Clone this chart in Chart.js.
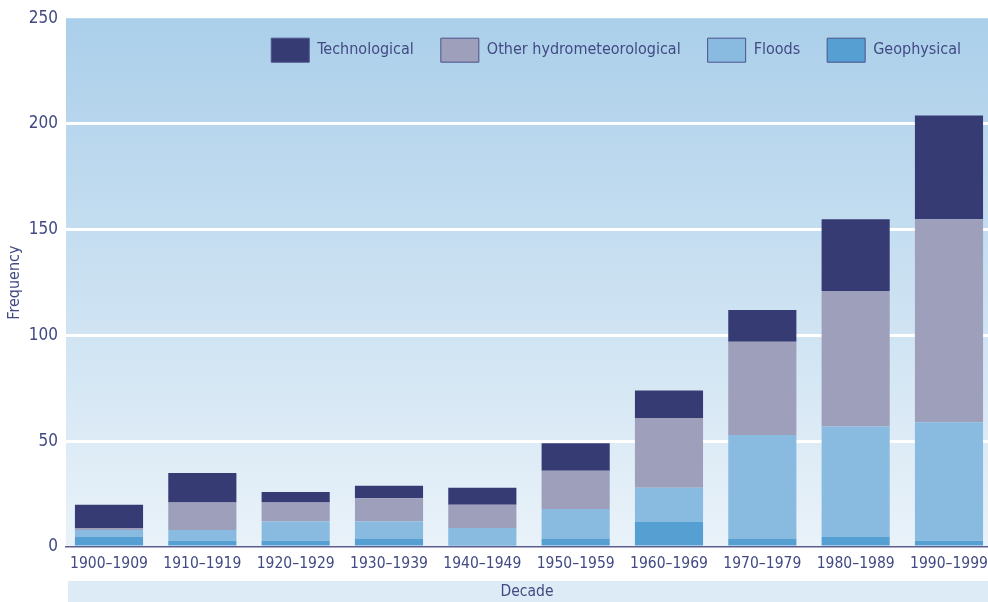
<!DOCTYPE html>
<html>
<head>
<meta charset="utf-8">
<script src="https://cdn.jsdelivr.net/npm/chart.js@4.4.1/dist/chart.umd.min.js"></script>
<style>
  html, body { margin: 0; padding: 0; background: #ffffff; }
  #wrap { width: 988px; height: 602px; position: relative; }
</style>
</head>
<body>
<div id="wrap"><canvas id="disasterChart"></canvas></div>
<script>
const decades = ['1900–1909', '1910–1919', '1920–1929', '1930–1939', '1940–1949',
    '1950–1959', '1960–1969', '1970–1979', '1980–1989', '1990–1999'];

const geophysical = [5, 3, 3, 4, 1, 4, 12, 4, 5, 3];
const floods = [3, 5, 9, 8, 8, 14, 16, 49, 52, 56];
const otherHydro = [1, 13, 9, 11, 11, 18, 33, 44, 64, 96];
const technological = [11, 14, 5, 6, 8, 13, 13, 15, 34, 49];

const yTicks = [0, 50, 100, 150, 200, 250];

const textColor = '#414a82';
const fontFamily = "'Liberation Sans Narrow', 'DejaVu Sans Condensed', 'Roboto', sans-serif";

// fond dégradé de la zone du graphique + bandeau "Decade"
const backgroundPlugin = {
    id: 'plotBackground',
    beforeInit(chart) {
        // la légende est posée dans la zone du graphique : elle ne prend presque pas de place
        if (chart.legend && !chart.legend._patched) {
            const origFit = chart.legend.fit;
            chart.legend.fit = function () {
                origFit.call(this);
                this.height = 7;
            };
            chart.legend._patched = true;
        }
    },
    afterLayout(chart) {
        // agrandir la zone de dessin de la légende pour qu'elle ne soit pas coupée
        const lg = chart.legend;
        if (lg) {
            lg.height = 70;
            lg.bottom = lg.top + 70;
        }
    },
    beforeDraw(chart) {
        const { ctx, chartArea } = chart;
        const grad = ctx.createLinearGradient(0, chartArea.top, 0, chartArea.bottom);
        grad.addColorStop(0, '#abcfea');
        grad.addColorStop(1, '#e9f2f9');
        ctx.save();
        ctx.fillStyle = grad;
        ctx.fillRect(chartArea.left, chartArea.top, chartArea.right - chartArea.left, chartArea.bottom - chartArea.top);
        ctx.fillStyle = '#ddebf6';
        ctx.fillRect(chartArea.left + 2, chart.height - 21, chartArea.right - chartArea.left - 2, 21);
        ctx.restore();
    }
};

function toPoints(values) {
    return values.map((v, i) => ({ x: i, y: v }));
}

function makeDataset(label, values, color) {
    return {
        label: label,
        data: toPoints(values),
        backgroundColor: color,
        borderWidth: 0,
        barPercentage: 0.73,
        categoryPercentage: 1
    };
}

const ctx = document.getElementById('disasterChart').getContext('2d');

const disasterChart = new Chart(ctx, {
    type: 'bar',
    data: {
        datasets: [
            makeDataset('Geophysical', geophysical, '#569fd3'),
            makeDataset('Floods', floods, '#89bbe1'),
            makeDataset('Other hydrometeorological', otherHydro, '#9d9fbb'),
            makeDataset('Technological', technological, '#373b73')
        ]
    },
    options: {
        responsive: true,
        maintainAspectRatio: false,
        animation: false,
        layout: { padding: { top: 10, right: 0, left: 0, bottom: 0 } },
        plugins: {
            tooltip: { enabled: false },
            legend: {
                position: 'top',
                align: 'end',
                reverse: true,
                labels: {
                    boxWidth: 38,
                    boxHeight: 24,
                    padding: 27,
                    color: textColor,
                    font: { family: fontFamily, size: 16 },
                    generateLabels(chart) {
                        return chart.data.datasets.map((ds, i) => ({
                            text: ds.label,
                            fillStyle: ds.backgroundColor,
                            strokeStyle: '#4b538a',
                            lineWidth: 1,
                            fontColor: textColor,
                            datasetIndex: i,
                            hidden: false
                        }));
                    }
                }
            }
        },
        scales: {
            x: {
                type: 'linear',
                stacked: true,
                offset: false,
                min: -0.4607,
                max: 9.418,
                afterBuildTicks(axis) {
                    axis.ticks = decades.map((d, i) => ({ value: i }));
                },
                afterFit(axis) {
                    axis.height = 55;
                    axis.paddingLeft = 0;
                    axis.paddingRight = 0;
                },
                ticks: {
                    autoSkip: false,
                    maxRotation: 0,
                    padding: 8,
                    color: textColor,
                    font: { family: fontFamily, size: 15.5 },
                    callback: (value) => decades[value]
                },
                grid: { display: false, drawTicks: false, offset: false },
                border: { display: true, color: '#5d5f91', width: 1.5 },
                title: {
                    display: true,
                    text: 'Decade',
                    color: textColor,
                    font: { family: fontFamily, size: 15.5 },
                    padding: { top: 0, bottom: 1 }
                }
            },
            y: {
                stacked: true,
                min: 0,
                max: 250,
                afterBuildTicks(axis) {
                    axis.ticks = yTicks.map(v => ({ value: v }));
                },
                afterFit(axis) {
                    axis.width = 66;
                },
                ticks: {
                    padding: 8,
                    color: textColor,
                    font: { family: fontFamily, size: 17 }
                },
                grid: {
                    drawTicks: false,
                    lineWidth: 3,
                    color: (c) => (c.tick && (c.tick.value === 0 || c.tick.value === 250)) ? 'rgba(0,0,0,0)' : '#ffffff'
                },
                border: { display: false },
                title: {
                    display: true,
                    text: 'Frequency',
                    color: textColor,
                    font: { family: fontFamily, size: 16 },
                    padding: { top: 5, bottom: 0 }
                }
            }
        }
    },
    plugins: [backgroundPlugin]
});
</script>
</body>
</html>
